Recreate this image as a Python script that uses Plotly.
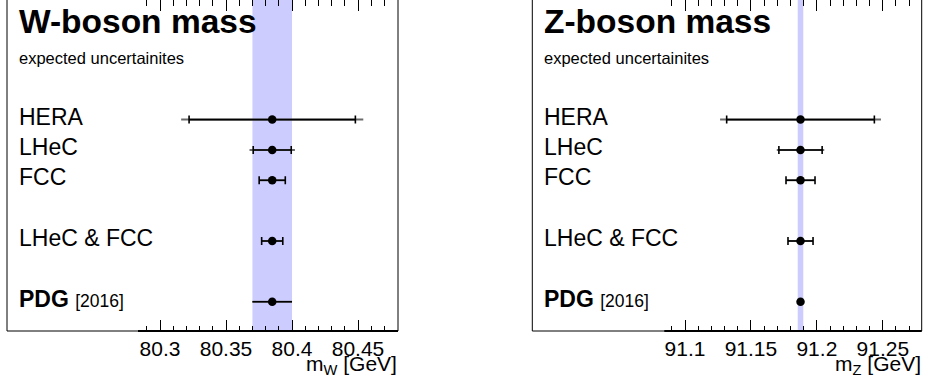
import plotly.graph_objects as go

W_PX, H_PX = 925, 383

# ---------------- data ----------------
labels = ["HERA", "LHeC", "FCC", "LHeC & FCC", "PDG"]
rows = [6, 5, 4, 2, 0]

w_central = [80.385, 80.385, 80.385, 80.385, 80.385]
w_err_capped = [0.063, 0.0144, 0.0099, 0.008]
w_err_total = [0.069, 0.0172, 0.0099, 0.008, 0.015]
w_pdg = (80.385, 0.015)

z_central = [91.1876, 91.1876, 91.1876, 91.1876, 91.1876]
z_err_capped = [0.056, 0.0164, 0.011, 0.0095]
z_err_total = [0.061, 0.018, 0.011, 0.0095, 0.0021]
z_pdg = (91.1876, 0.0021)

w_ticks = [80.3, 80.35, 80.4, 80.45]
z_ticks = [91.1, 91.15, 91.2, 91.25]

FONT = "Liberation Sans, Arial, Helvetica, sans-serif"

def px_x(p):
    return p / W_PX

def px_y(p):
    return 1 - p / H_PX

fig = go.Figure()

panels = [
    dict(xa="x", ya="y", central=w_central, capped=w_err_capped, total=w_err_total,
         pdg=w_pdg, ticks=w_ticks, dom=(138, 398), frame=(7, 398), rng=(80.2833, 80.4803),
         title="W-boson mass", label_x=18, axtitle="m<sub>W</sub> [GeV]"),
    dict(xa="x2", ya="y2", central=z_central, capped=z_err_capped, total=z_err_total,
         pdg=z_pdg, ticks=z_ticks, dom=(664.3, 921.7), frame=(532.3, 921.7), rng=(91.0843, 91.2795),
         title="Z-boson mass", label_x=543, axtitle="m<sub>Z</sub> [GeV]"),
]

y_bottom_px = 331
y_domain = [(H_PX - y_bottom_px) / H_PX, 1.0]
# y value 0 at px 301.7, 30.35 px per unit
y_range = [(301.7 - y_bottom_px) / 30.35, 301.7 / 30.35]

layout_axes = {}
shapes = []
annotations = []

for i, p in enumerate(panels):
    n = len(p["capped"])
    # outer (total) error lines, no caps, grey extension
    fig.add_trace(go.Scatter(
        x=p["central"], y=rows, mode="markers", xaxis=p["xa"], yaxis=p["ya"],
        marker=dict(size=0.1, color="rgba(0,0,0,0)"),
        error_x=dict(type="data", array=p["total"], symmetric=True, width=0,
                     thickness=2, color="#6a6a6a"),
        showlegend=False, hoverinfo="skip"))
    # capped inner error bars
    fig.add_trace(go.Scatter(
        x=p["central"][:n], y=rows[:n], mode="markers", xaxis=p["xa"], yaxis=p["ya"],
        marker=dict(size=0.1, color="rgba(0,0,0,0)"),
        error_x=dict(type="data", array=p["capped"], symmetric=True, width=4,
                     thickness=1.6, color="black"),
        showlegend=False, hoverinfo="skip"))
    # PDG error line
    fig.add_trace(go.Scatter(
        x=[p["pdg"][0]], y=[rows[-1]], mode="markers", xaxis=p["xa"], yaxis=p["ya"],
        marker=dict(size=0.1, color="rgba(0,0,0,0)"),
        error_x=dict(type="data", array=[p["pdg"][1]], symmetric=True, width=0,
                     thickness=1.6, color="black"),
        showlegend=False, hoverinfo="skip"))
    # markers
    fig.add_trace(go.Scatter(
        x=p["central"], y=rows, mode="markers", xaxis=p["xa"], yaxis=p["ya"],
        marker=dict(size=8.5, color="black", symbol="circle"),
        showlegend=False, hoverinfo="skip"))

    suffix = "" if i == 0 else "2"
    layout_axes["xaxis" + suffix] = dict(
        domain=[px_x(p["dom"][0]), px_x(p["dom"][1])],
        range=list(p["rng"]),
        anchor="y" + suffix,
        tickmode="array", tickvals=p["ticks"], ticktext=[str(t) for t in p["ticks"]],
        ticks="inside", ticklen=11, tickwidth=1, tickcolor="black",
        minor=dict(dtick=0.01, tick0=p["ticks"][0], ticks="inside", ticklen=5.5,
                   tickwidth=1, tickcolor="black", showgrid=False),
        mirror="ticks", showline=False, showgrid=False, zeroline=False,
        tickfont=dict(family=FONT, size=21, color="black"),
        ticklabelstandoff=3,
    )
    layout_axes["yaxis" + suffix] = dict(
        domain=y_domain, range=y_range, anchor="x" + suffix,
        visible=False, showgrid=False, zeroline=False,
    )

    # PDG band
    shapes.append(dict(type="rect", xref=p["xa"], yref="paper",
                       x0=p["pdg"][0] - p["pdg"][1], x1=p["pdg"][0] + p["pdg"][1],
                       y0=y_domain[0], y1=1.0,
                       fillcolor="#ccccff", line=dict(width=0), layer="below"))
    # frame
    shapes.append(dict(type="rect", xref="paper", yref="paper",
                       x0=px_x(p["frame"][0]), x1=px_x(p["frame"][1]),
                       y0=y_domain[0], y1=1.01,
                       line=dict(color="black", width=1), fillcolor="rgba(0,0,0,0)",
                       layer="above"))
    # thick axis line
    shapes.append(dict(type="line", xref="paper", yref="paper",
                       x0=px_x(p["dom"][0]), x1=px_x(p["dom"][1]),
                       y0=y_domain[0], y1=y_domain[0],
                       line=dict(color="black", width=2), layer="above"))

    # title and subtitle
    annotations.append(dict(text="<b>" + p["title"] + "</b>", xref="paper", yref="paper",
                            x=px_x(p["label_x"] - 1), y=px_y(21), xanchor="left", yanchor="middle",
                            showarrow=False, font=dict(family=FONT, size=33.5, color="black")))
    annotations.append(dict(text="expected uncertainites", xref="paper", yref="paper",
                            x=px_x(p["label_x"] - 1), y=px_y(58), xanchor="left", yanchor="middle",
                            showarrow=False, font=dict(family=FONT, size=16.5, color="black")))
    # row labels
    for lab, r in zip(labels, rows):
        if lab == "PDG":
            txt = "<b>PDG</b> <span style='font-size:17.5px'>[2016]</span>"
        else:
            txt = lab
        annotations.append(dict(text=txt, xref="paper", yref=p["ya"],
                                x=px_x(p["label_x"] - 1), y=r + 0.1, xanchor="left", yanchor="middle",
                                showarrow=False, font=dict(family=FONT, size=23, color="black")))
    # axis title
    annotations.append(dict(text=p["axtitle"], xref="paper", yref="paper",
                            x=px_x(p["dom"][1] + 1), y=px_y(365), xanchor="right", yanchor="middle",
                            showarrow=False, font=dict(family=FONT, size=21, color="black")))

fig.update_layout(
    width=W_PX, height=H_PX,
    margin=dict(l=0, r=0, t=0, b=0),
    paper_bgcolor="white", plot_bgcolor="rgba(0,0,0,0)",
    shapes=shapes, annotations=annotations,
    **layout_axes,
)

fig.write_html("out.html")
